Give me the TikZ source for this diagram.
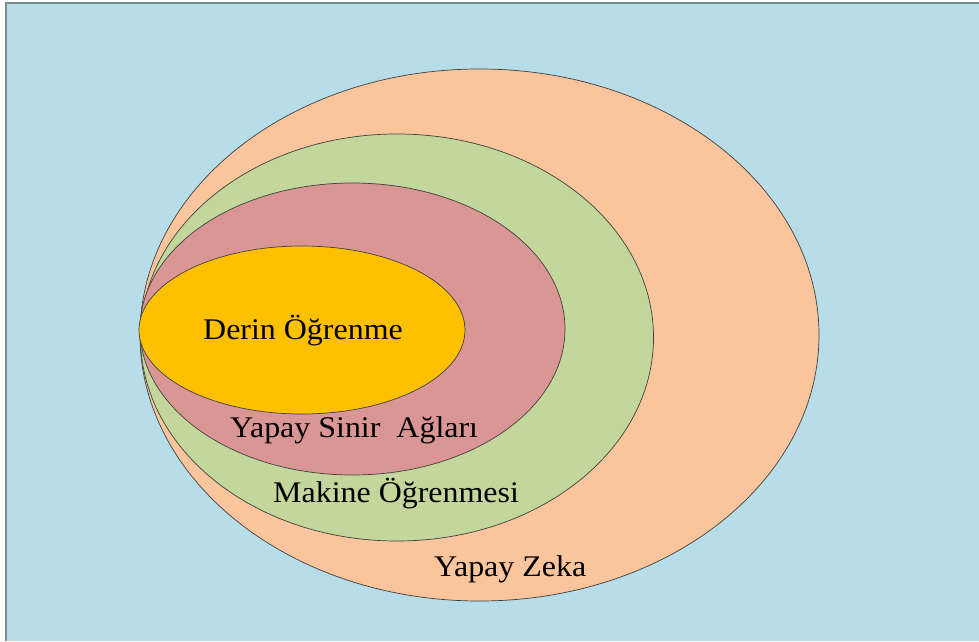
\documentclass[tikz,border=0pt]{standalone}
\usepackage{fontspec}
\setmainfont{Liberation Serif}
\newfontfamily\lblfont[FakeStretch=1.065]{Liberation Serif}
\definecolor{bgblue}{HTML}{B7DDE8}
\definecolor{peach}{HTML}{FAC49C}
\definecolor{olive}{HTML}{C3D69B}
\definecolor{rose}{HTML}{D99694}
\definecolor{gold}{HTML}{FFC000}
\definecolor{frame}{HTML}{7F8A8D}
\tikzset{
  ring/.style={draw=black!75, line width=0.7pt},
  lbl/.style={anchor=base west, inner sep=0pt, font=\lblfont\fontsize{30}{36}\selectfont, text=black}
}
\begin{document}
\begin{tikzpicture}[x=1pt,y=1pt]
\useasboundingbox (0,0) rectangle (979,641);
\fill[white] (0,0) rectangle (979,641);
\fill[bgblue] (7,0) rectangle (979,637);
\draw[frame, line width=2pt] (6,0) -- (6,638) -- (979,638);
\path[ring, fill=peach] (479.5,306) ellipse [x radius=339.5, y radius=266];
\path[ring, fill=olive] (397,303.5) ellipse [x radius=256.5, y radius=203.5];
\path[ring, fill=rose] (352.5,312) ellipse [x radius=212.5, y radius=146];
\path[ring, fill=gold] (302,311) ellipse [x radius=163, y radius=84];
\node[lbl] (dl) at (203,302) {Derin Öğrenme};
\node[lbl] (ysa) at (230,204) {Yapay Sinir\ \ Ağları};
\node[lbl] (mo) at (273,139) {Makine Öğrenmesi};
\node[lbl] (yz) at (434,65) {Yapay Zeka};
\end{tikzpicture}
\end{document}
